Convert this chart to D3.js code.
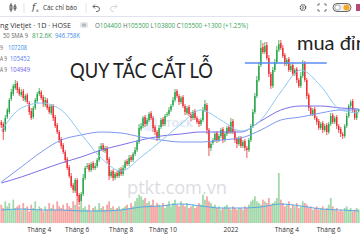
<!DOCTYPE html>
<html><head><meta charset="utf-8">
<script src="https://cdn.jsdelivr.net/npm/d3@7"></script>
<style>html,body{margin:0;padding:0;background:#fff;overflow:hidden}svg{display:block}</style>
</head><body><svg id="c" width="360" height="240"></svg>
<script>
// ---- data (price in thousand VND, volume in thousand shares) ----
const opens = [
99,98,95,101.5,104,110.5,113,116,118.5,115.5,
112.5,114.5,110,112.5,108.5,104.5,101.5,106,109.5,113,
114,111.5,107.5,110,106.5,103.5,107,101.5,97.5,94,
90.5,87.5,84,80.5,76.5,72,67.5,64.5,70,62.5,
59.5,63,71,76.5,77.5,75,78.5,76,77,80,
85.5,87.5,84.5,86,80.5,72,74.5,71,73.5,72,
75.5,73,76,79.5,78,81.5,80,83,85,89,
95.5,97,101.5,98,100,103.5,101,96.5,94,91,
96.5,100.5,98,102.5,103,105,107.5,110,114.5,112,
109,111.5,107,103.5,106.5,103,101,104.5,101,99.5,
98,100,105,107.5,95,86,88.5,90,93.5,90,
92,95.5,90,93,96.5,94,99.5,94,90.5,88,
91,87,89.5,86,85,90,97,104,112,120,
127.5,136.5,134,137.5,131,123,117,125,129,135,
138.5,136,132.5,128,130.5,125,127.5,123,125.5,120,
117,122,128.5,120,112.5,106,103,105.5,101,99.5,
96,98.5,95,97.5,94,98,102.5,99,101.5,97,
95.5,93,92,97,102,107,109.5,105,101,104.4];
const closes = [
97.5,94,101,105,110,114,117,118,115,113,
114,111,112,109,104,101,106,110,113,114.5,
111,108,110,106,104,107,101,97,94,90,
87,84,80,76,72,67,65,70,62,59,
63,71,76,77,75,78,76,77,80,85,
87,85,86,80,72,74,71,73,72,75,
73,76,79,78,81,80,83,85,89,96,
97,101,98,100,103,101,96,94,91,96,
100,98,102,103,105,107,110,114,112,109,
111,107,104,106,103,101,104,101,99,98,
100,105,108,95,86,88,90,93,90,92,
95,90,93,96,94,99,94,90,88,91,
87,89,86,85,90,97,104,112,120,127,
136,134,137,131,123,117,125,129,135,138,
136,132,128,130,125,127,123,125,120,117,
122,128,120,112,106,103,105,101,99,96,
98,95,97,94,98,102,99,101,97,95,
93,92,97,102,107,109,105,101,104,105.5];
const wickUp = [
1,1,1.5,1,1,1.5,1,2,1,1,
1.5,1,1,1,1,1.5,1,1,1,1.5,
1,1,1.5,1,1,1,1,1,1,1,
1,1,1,1,1,1.5,1,1,1,1,
1,2,1,1.5,1,1,1,1.5,1,2,
1.5,1,1,1,1,1,1,1,1,1,
1,1.5,1,1,1.5,1,1,1.5,1,2,
1.5,1,1,1,1,1,1,1,1,1.5,
1,1,1,1,1.5,1,1.5,1.5,1,1,
1,1,1,1,1,1,1,1,1,1,
1,1.5,2,1,1,1,1,1,1,1,
1,1,1,1,1,2,1,1,1,1,
1,1,1,1,1,1,1.5,1.5,2,2,
4,2,2,1.5,1.5,1,1.5,1.5,2,2,
1.5,1.5,1,1,1,1,1,1,1,1,
2,2,1,1,1,1,1,1,1,1,
1,1,1,1,1,1.5,1,1,1,1,
1,1,1,1.5,1,1,1,1,1,0];
const wickDn = [
1.5,4,1,1,1,1,1,1,1.5,1,
1,1.5,1,1,1.5,1,1,1,1,1,
1,1.5,1,1,1,1,1.5,1,1,1.5,
1.5,1,1.5,1,1,1,1.5,1,2,1.5,
1,1,1,1,1,1,1,1,1,1,
1,1,1,1.5,2,1,1.5,1,1,1,
1,1,1,1,1,1,1,1,1,1,
1,1,1.5,1,1,1,2,1.5,1.5,1,
1,1,1,1,1,1,1,1,1,1.5,
1,1,1.5,1,1,1.5,1,1,1,1.5,
1,1,1,2,4,1.5,1,1,1.5,1,
1,1.5,1,1,1,1,1,1.5,2,1,
1,1,1.5,4,1,1,1,1,1,1,
1,1,1,1,1.5,1.5,1,1,1,1,
1,1,1,1,1,1,1,1,1.5,1,
1,1,1,1.5,1.5,1,1,1,1.5,1,
1,1.5,1,1.5,1,1,1,1,1.5,1.5,
1.5,1.5,1,1,1,1,1,1,1,0.6];
const volumes = [
1100,900,1300,1000,1200,800,1400,900,1000,1100,
800,1200,900,1000,700,1100,900,1300,800,1000,
900,700,1000,800,1200,900,1100,800,1300,1000,
900,1100,800,1200,1000,900,1300,1100,1400,1000,
1200,900,1000,800,1100,700,900,1000,800,1200,
900,1000,800,1100,1300,900,1000,800,900,1000,
800,900,1000,1100,900,1200,1000,1300,1500,1700,
1600,1400,1500,1200,1300,1100,1400,1000,1200,1100,
1000,1200,900,1100,1300,1000,1200,1400,1100,1000,
1300,1100,1000,1200,900,1000,1100,900,1000,1200,
1100,1700,1400,1600,1300,1200,1000,1100,900,1000,
800,900,1000,1100,900,800,1000,900,800,900,
900,800,1000,900,1100,1300,1400,1600,1300,1200,
1100,1400,1300,1200,1500,1100,1200,1300,1500,3000,
1400,1200,1000,1100,1300,900,1100,1000,1200,900,
1000,1300,1200,1100,900,1000,800,900,1000,800,
900,1000,800,900,1100,1500,1000,800,900,700,
800,700,900,1000,800,900,700,800,900,812.6];
// moving averages read at sampled candle indexes
const maIdx = [0,10,20,30,40,50,60,70,80,90,100,110,120,130,140,150,160,170,179];
const maShort = [94.5,106,108.5,105,93,81,74.5,81.5,89.5,98,105,100,94.5,100,114,125,117,105,103.5];
const maMid   = [69,76.5,84,90,92.5,94,93.5,91.5,90,89,89,90,91,95,100,101.5,103.5,105,105];
const maLong  = [68.5,71.5,75,78.5,81.5,85,87.5,90,92,93,94,94,94,99.5,105,107,107,106,105.5];
const volMA   = [780,840,780,780,720,720,780,960,1020,1140,1020,900,900,960,1140,1020,840,780,720];
const tickIdx = [19,38,60,81,115,143,164];
const tickLabels = ["Tháng 4","Tháng 6","Tháng 8","Tháng 10","2022","Tháng 4","Tháng 6"];
const levelFrom = 122, levelTo = 163, levelPrice = 128.5;

// ---- drawing ----
const svg = d3.select("#c");
const N = closes.length;
const x = d3.scaleBand().domain(d3.range(N)).range([0,360]).padding(0.3);
const cx = i => x(i) + x.bandwidth()/2;
const y = d3.scaleLinear().domain([60,160]).range([200,0]);
const yv = d3.scaleLinear().domain([0,3000]).range([223,173]);
const GREEN = "#24a344", RED = "#ee2a2e";
const VGREEN = "#a3d8aa", VRED = "#f6a5a5";
const up = i => closes[i] >= opens[i];

// watermark + faint logo
svg.append("text").attr("x",127).attr("y",194).attr("font-family","Open Sans")
  .attr("font-size",19).attr("fill","#dcdde3").attr("textLength",100)
  .attr("lengthAdjust","spacingAndGlyphs").text("ptkt.com.vn");
svg.append("circle").attr("cx",149).attr("cy",123).attr("r",8.5)
  .attr("fill","#dbe8f6").attr("opacity",0.6);
svg.append("text").attr("x",159).attr("y",127).attr("font-family","DejaVu Sans")
  .attr("font-size",9).attr("font-weight","bold").attr("fill","#d4dfee").attr("opacity",0.7)
  .text("STOCK");

// volume
svg.append("g").selectAll("rect").data(volumes).join("rect")
  .attr("x",(d,i)=>x(i)-0.2).attr("width",x.bandwidth()+0.4)
  .attr("y",d=>yv(d)).attr("height",d=>yv(0)-yv(d))
  .attr("fill",(d,i)=>up(i)?VGREEN:VRED);
svg.append("path").datum(volMA.map((v,k)=>[maIdx[k],v]))
  .attr("fill","none").attr("stroke","#5aa7e6").attr("stroke-width",1)
  .attr("d",d3.line().x(d=>cx(d[0])).y(d=>yv(d[1])).curve(d3.curveMonotoneX));

// candles
const cg = svg.append("g");
cg.selectAll("line").data(closes).join("line")
  .attr("x1",(d,i)=>cx(i)).attr("x2",(d,i)=>cx(i))
  .attr("y1",(d,i)=>y(Math.max(opens[i],d)+wickUp[i]))
  .attr("y2",(d,i)=>y(Math.min(opens[i],d)-wickDn[i]))
  .attr("stroke",(d,i)=>up(i)?GREEN:RED).attr("stroke-width",0.8);
cg.selectAll("rect").data(closes).join("rect")
  .attr("x",(d,i)=>x(i)).attr("width",x.bandwidth())
  .attr("y",(d,i)=>y(Math.max(opens[i],d)))
  .attr("height",(d,i)=>Math.max(0.8,Math.abs(y(opens[i])-y(d))))
  .attr("fill",(d,i)=>up(i)?GREEN:RED);

// moving averages
const maLine = d3.line().x(d=>cx(d[0])).y(d=>y(d[1])).curve(d3.curveMonotoneX);
[[maLong,"#7b70ea"],[maMid,"#7e98f2"],[maShort,"#8ec8f2"]].forEach(([arr,col])=>{
  svg.append("path").datum(arr.map((v,k)=>[maIdx[k],v]))
    .attr("fill","none").attr("stroke",col).attr("stroke-width",1).attr("d",maLine);
});

// "mua đỉnh" level line
svg.append("line").attr("x1",cx(levelFrom)).attr("x2",cx(levelTo))
  .attr("y1",y(levelPrice)).attr("y2",y(levelPrice))
  .attr("stroke","#5a8ef5").attr("stroke-width",1.4);

// annotations
svg.append("text").attr("x",70).attr("y",78).attr("font-family","Lato")
  .attr("font-size",21).attr("fill","#222").attr("textLength",143)
  .attr("lengthAdjust","spacingAndGlyphs").text("QUY TẮC CẮT LỖ");
svg.append("text").attr("x",297).attr("y",50).attr("font-family","Lato")
  .attr("font-size",20).attr("fill","#222").text("mua đỉnh");

// x axis
const ax = svg.append("g").attr("transform","translate(0,224)")
  .call(d3.axisBottom(x).tickValues(tickIdx).tickFormat((d,k)=>tickLabels[k]).tickSize(0).tickPadding(3));
ax.select(".domain").remove();
ax.selectAll("text").attr("font-family","Open Sans").attr("font-size",6.5).attr("fill","#333");

// legend
const LG = "#3aa55a", GR = "#666";
const lt = (xx,yy,w,s,c) => svg.append("text").attr("x",xx).attr("y",yy)
  .attr("font-family","Open Sans").attr("font-size",6.5).attr("fill",c)
  .attr("textLength",w).attr("lengthAdjust","spacingAndGlyphs").text(s);
lt(0,27.5,71,"ng Vietjet · 1D · HOSE","#333");
const l1b = svg.append("text").attr("x",95).attr("y",27.5).attr("font-family","Open Sans").attr("font-size",6.5)
  .attr("textLength",153).attr("lengthAdjust","spacingAndGlyphs");
[["O",GR],["104400",LG],[" H",GR],["105500",LG],[" L",GR],["103800",LG],[" C",GR],["105500",LG],[" +1300 (+1.25%)",LG]]
  .forEach(([t,c])=>l1b.append("tspan").attr("fill",c).text(t));
svg.append("rect").attr("x",80).attr("y",22).attr("width",8).attr("height",6).attr("rx",2).attr("fill","#e4e6ea");
svg.append("path").attr("d","M82,24.2H86M82,25.8H86").attr("stroke","#777").attr("stroke-width",0.6);
lt(3,38,25,"50 SMA 9",GR); lt(32,38,20,"812.6K",LG); lt(55,38,25,"946.758K","#3b8fe8");
lt(0,49.5,3,"9",GR); lt(8,49.5,19,"107208","#3b8fe8");
lt(0,61,7,"A 9",GR); lt(10,61,20,"105452","#5a7df0");
lt(0,72,7,"A 9",GR); lt(10,72,20,"104949","#6a5fe6");

// toolbar
svg.append("line").attr("x1",0).attr("x2",360).attr("y1",16.5).attr("y2",16.5).attr("stroke","#e0e3eb");
svg.append("path").attr("d","M11,3V12M10,5h2v5h-2zM15,4V11M14,6h2v3h-2z").attr("stroke","#333").attr("stroke-width",0.7).attr("fill","none");
[24,86].forEach(xx=>svg.append("line").attr("x1",xx).attr("x2",xx).attr("y1",3).attr("y2",13).attr("stroke","#e3e3e3"));
svg.append("text").attr("x",32).attr("y",10).attr("font-family","DejaVu Serif").attr("font-style","italic")
  .attr("font-size",9).attr("fill","#333").text("f");
svg.append("text").attr("x",36).attr("y",12).attr("font-family","DejaVu Sans").attr("font-size",4.5).attr("fill","#333").text("x");
svg.append("text").attr("x",43).attr("y",9.8).attr("font-family","Open Sans").attr("font-size",7)
  .attr("fill","#333").attr("textLength",34).attr("lengthAdjust","spacingAndGlyphs").text("Các chỉ báo");
svg.append("path").attr("d","M93,6.5h4a2.5,2.5 0 0 1 0,5h-1M93,6.5l2,-2M93,6.5l2,2").attr("stroke","#444").attr("stroke-width",0.8).attr("fill","none");
svg.append("path").attr("d","M117,6.5h-4a2.5,2.5 0 0 0 0,5h1M117,6.5l-2,-2M117,6.5l-2,2").attr("stroke","#ccc").attr("stroke-width",0.8).attr("fill","none");
svg.append("circle").attr("cx",303).attr("cy",7.5).attr("r",2.8).attr("fill","none").attr("stroke","#444").attr("stroke-width",1.1).attr("stroke-dasharray","1.6,0.6");
svg.append("circle").attr("cx",303).attr("cy",7.5).attr("r",1).attr("fill","none").attr("stroke","#444").attr("stroke-width",0.6);
svg.append("path").attr("d","M318,6V4h2M324,4h2v2M326,9v2h-2M320,11h-2v-2").attr("stroke","#555").attr("stroke-width",0.8).attr("fill","none");
svg.append("rect").attr("x",333).attr("y",3.5).attr("width",18).attr("height",8).attr("rx",4).attr("fill","#eee").attr("stroke","#444").attr("stroke-width",0.8);
svg.append("circle").attr("cx",337.5).attr("cy",7.5).attr("r",2.6).attr("fill","#fff").attr("stroke","#666").attr("stroke-width",0.5);
svg.append("circle").attr("cx",346.5).attr("cy",7.5).attr("r",3).attr("fill","#f5a623");
svg.append("rect").attr("x",356).attr("y",4).attr("width",5).attr("height",7).attr("fill","#b34a7a");
</script></body></html>
